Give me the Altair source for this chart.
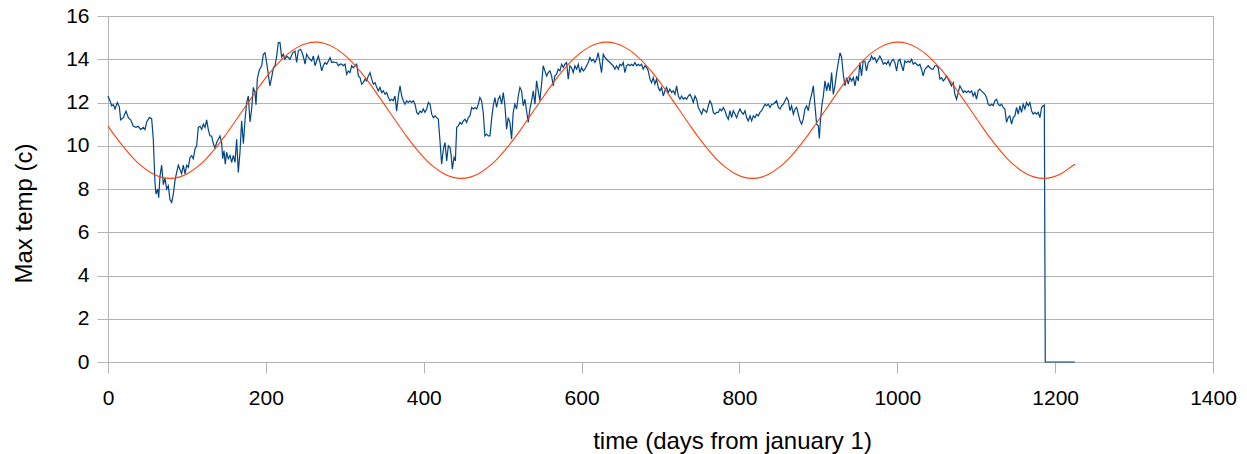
import altair as alt
import pandas as pd

# ---------------- data ----------------
x_ticks = [0, 200, 400, 600, 800, 1000, 1200, 1400]
y_ticks = [0, 2, 4, 6, 8, 10, 12, 14, 16]

# measured max temperature (blue), segment 1
days_a = [0, 2.5, 4.6, 6.8, 8.9, 11.8, 14.4, 16.0, 19.4, 22.8,
          25.8, 28.7, 32.1, 35.5, 38.4, 41.4, 44.8, 46.9, 49.0, 52.4,
          55.3, 57.4, 59.5, 60.8, 62.9, 64.2, 65.9, 68.0, 70.1, 72.2,
          74.3, 76.4, 78.5, 80.7, 82.8, 84.9, 87.0, 89.1, 91.2, 93.3,
          95.4, 97.6, 99.7, 101.8, 103.9, 106.0, 108.1, 110.2, 112.3, 114.4,
          116.6, 118.7, 120.8, 122.9, 125.0, 127.1, 129.2, 131.3, 133.4, 135.6,
          137.7, 139.8, 141.9, 144.0, 145.3, 147.0, 148.6, 150.3, 152.4, 154.6,
          156.7, 158.8, 160.9, 163.0, 165.1, 167.2, 169.3, 171.5, 173.6, 175.7,
          177.8, 179.9, 182.0, 184.1, 186.2, 187.5, 189.2, 191.7, 194.7, 196.8,
          198.9, 201.0, 203.1, 205.2, 207.3, 209.5, 211.6, 213.7, 215.8, 217.9,
          220.0, 222.1, 224.2, 226.4]
temp_a = [12.3, 12.08, 11.85, 11.9, 11.7, 12.0, 11.8, 11.2, 11.3, 11.6,
          11.3, 11.2, 10.9, 10.85, 10.9, 10.75, 10.85, 10.75, 11.1, 11.3,
          11.25, 10.3, 8.3, 7.77, 8.0, 7.6, 8.6, 9.1, 8.2, 8.5,
          8.0, 8.15, 7.5, 7.38, 7.77, 8.4, 8.77, 9.1, 8.9, 8.7,
          9.1, 8.7, 9.1, 9.0, 9.46, 9.54, 9.4, 9.85, 10.0, 10.85,
          10.9, 10.75, 11.0, 10.85, 11.2, 10.75, 10.45, 10.45, 10.1, 9.9,
          10.15, 10.3, 10.45, 10.15, 9.4, 9.77, 9.15, 9.7, 9.4, 9.55,
          9.23, 9.55, 9.23, 10.3, 8.77, 9.7, 11.15, 10.1, 11.2, 12.0,
          12.3, 11.1, 11.7, 12.7, 12.45, 11.9, 13.1, 13.5, 13.7, 14.23,
          14.3, 13.85, 13.3, 12.77, 13.15, 13.6, 13.7, 14.15, 14.77, 14.77,
          14.1, 14.23, 14.0, 14.15]

# segment 2
days_b = [230.6, 234.0, 236.9, 239.0, 241.2, 244.1, 246.6, 248.3, 249.6, 251.7,
          253.8, 255.9, 258.1, 260.2, 262.3, 264.4, 266.5, 268.6, 270.7, 272.8,
          275.0, 277.1, 279.2, 281.3, 283.4, 285.5, 287.6, 289.7, 291.8, 294.0,
          296.1, 298.2, 300.3, 302.4, 304.5, 306.6, 308.7, 310.8, 313.0, 315.1,
          317.2, 319.3, 321.4, 323.5, 325.6, 327.7, 329.8, 332.0, 334.1, 336.2,
          338.3, 340.4, 342.5, 344.6, 346.7, 348.8, 351.0, 353.1, 355.2, 357.3,
          359.4, 361.5, 363.6, 365.7, 367.9, 370.0, 372.1, 374.2, 376.3, 378.4,
          380.5, 382.6, 384.7, 386.9, 389.0, 391.1, 393.2, 395.3, 397.4, 399.5,
          401.6, 403.7, 405.9, 408.0, 410.1, 412.2, 414.3, 416.4, 418.5, 420.6,
          422.7, 424.9, 427.0, 429.1, 431.2, 433.3, 434.6, 436.3, 438.4, 440.1,
          441.8, 443.9, 446.0, 448.1, 450.2, 452.3, 454.4, 456.5, 458.6, 460.8,
          462.9, 465.0, 467.1, 469.2]
temp_b = [14.0, 14.3, 14.38, 13.85, 14.4, 14.46, 14.23, 14.0, 13.77, 14.23,
          14.1, 14.0, 13.92, 14.15, 13.7, 13.92, 14.15, 13.85, 13.46, 13.7,
          13.85, 13.77, 13.92, 14.08, 13.85, 13.88, 13.85, 13.85, 13.7, 13.77,
          13.77, 13.7, 13.77, 13.3, 13.46, 13.38, 13.7, 13.6, 13.7, 13.77,
          13.23, 13.15, 12.85, 12.92, 13.08, 13.0, 13.23, 13.38, 13.08, 12.85,
          12.92, 12.7, 12.54, 12.7, 12.46, 12.54, 12.38, 12.46, 12.23, 12.08,
          12.15, 12.08, 12.3, 11.6, 12.3, 12.77, 12.3, 12.08, 11.92, 12.08,
          12.0, 12.08, 12.0, 12.08, 11.92, 11.54, 11.46, 11.6, 11.54, 11.7,
          11.54, 11.7, 12.0, 11.92, 11.46, 11.3, 11.38, 11.3, 11.23, 10.23,
          9.15, 9.85, 10.15, 9.3, 10.0, 9.92, 9.62, 8.92, 9.46, 9.3,
          10.85, 10.92, 11.08, 11.0, 11.15, 11.23, 11.08, 11.3, 11.38, 11.77,
          11.7, 11.77, 11.7, 11.92]

# segment 3
days_c = [471.2, 473.3, 475.4, 477.5, 479.6, 481.8, 483.9, 486.0, 488.1, 490.2,
          492.3, 494.4, 496.5, 498.7, 500.8, 502.9, 505.0, 507.1, 509.2, 511.3,
          513.4, 515.5, 517.7, 519.8, 521.9, 524.0, 526.1, 528.2, 530.3, 532.4,
          534.5, 536.7, 538.8, 540.9, 543.0, 545.1, 547.2, 549.3, 551.4, 553.5,
          555.7, 557.8, 559.9, 562.0, 564.1, 566.2, 568.3, 570.4, 572.6, 574.7,
          576.8, 578.9, 581.0, 583.1, 585.2, 587.3, 589.4, 591.6, 593.7, 595.8,
          597.9, 600.0, 602.1, 604.2, 606.3, 608.4, 610.6, 612.7, 614.8, 616.9,
          619.0, 621.1, 623.2, 625.3, 627.5, 629.6, 631.7, 633.8, 635.9, 638.0,
          640.1, 642.2, 644.3, 646.5, 648.6, 650.7, 652.8, 654.9, 657.0, 659.1,
          661.2, 663.3, 665.5, 667.6, 669.7, 671.8, 673.9, 676.0, 678.1, 680.2,
          682.4, 684.5, 686.6, 688.7, 690.8, 692.9, 695.0, 697.1, 699.2, 701.4,
          703.5, 705.6, 707.7, 709.8, 711.9]
temp_c = [12.23, 12.08, 11.54, 10.46, 10.54, 10.46, 10.46, 11.23, 11.85, 12.23,
          11.77, 12.15, 12.3, 11.92, 12.46, 11.85, 10.77, 11.3, 11.08, 10.3,
          11.54, 11.92, 11.7, 12.3, 12.7, 12.54, 11.85, 12.15, 11.62, 11.08,
          11.7, 12.08, 12.54, 11.92, 13.0, 12.54, 12.08, 12.85, 13.7, 13.46,
          13.23, 13.38, 13.46, 13.23, 12.77, 13.23, 13.3, 13.54, 13.46, 13.77,
          13.62, 13.77, 13.85, 13.08, 13.7, 13.62, 13.38, 13.7, 13.54, 13.77,
          13.38, 13.62, 13.46, 13.54, 13.7, 13.85, 14.08, 13.92, 14.0, 13.85,
          14.0, 14.3, 13.85, 13.38, 14.23, 14.08, 14.0, 13.92, 13.85, 13.77,
          13.7, 13.54, 13.7, 13.54, 13.77, 13.7, 13.85, 13.38, 13.7, 13.77,
          13.7, 13.77, 13.7, 13.85, 13.7, 13.77, 13.7, 13.77, 13.54, 13.7,
          13.62, 13.46, 13.08, 12.92, 13.15, 12.85, 13.08, 12.7, 12.54, 12.7,
          12.3, 12.54, 12.7, 12.46, 12.62]

# segment 4
days_d = [714.1, 716.2, 718.3, 720.4, 722.6, 724.7, 726.8, 728.9, 731.0, 733.1,
          735.2, 737.3, 739.4, 741.6, 743.7, 745.8, 747.9, 750.0, 752.1, 754.2,
          756.3, 758.5, 760.6, 762.7, 764.8, 766.9, 769.0, 771.1, 773.2, 775.3,
          777.5, 779.6, 781.7, 783.8, 785.9, 788.0, 790.1, 792.2, 794.4, 796.5,
          798.6, 800.7, 802.8, 804.9, 807.0, 809.1, 811.2, 813.4, 815.5, 817.6,
          819.7, 821.8, 823.9, 826.0, 828.1, 830.2, 832.4, 834.5, 836.6, 838.7,
          840.8, 842.9, 845.0, 847.1, 849.3, 851.4, 853.5, 855.6, 857.7, 859.8,
          861.9, 864.0, 866.1, 868.3, 870.4, 872.5, 874.6, 876.7, 878.8, 880.9,
          883.0, 885.1, 887.3, 889.4, 891.5, 893.6, 895.7, 897.8, 899.9,
          901.2, 902.9, 904.6,
          906.3, 908.4, 910.5, 912.6, 914.7, 916.8, 918.9, 921.0, 923.2, 925.3,
          927.4, 929.5, 931.6, 933.7, 935.8, 937.9, 940.0, 942.2, 944.3, 946.4,
          948.5, 950.6]
temp_d = [12.46, 12.54, 12.38, 12.77, 12.3, 12.15, 12.3, 12.15, 12.23, 12.15,
          12.3, 12.38, 12.23, 12.0, 12.3, 12.15, 11.77, 11.62, 11.46, 11.7,
          11.62, 11.54, 11.85, 12.08, 11.92, 11.54, 11.46, 11.54, 11.54, 11.7,
          11.62, 11.77, 11.62, 11.38, 11.23, 11.62, 11.3, 11.62, 11.46, 11.3,
          11.54, 11.7, 11.54, 11.46, 11.62, 11.3, 11.15, 11.38, 11.15, 11.38,
          11.3, 11.46, 11.38, 11.54, 11.62, 11.77, 11.92, 11.85, 11.92, 11.77,
          11.92, 11.92, 12.0, 12.08, 11.77, 11.7, 11.85, 11.92, 12.08, 12.23,
          12.08, 11.62, 11.85, 11.46, 11.7, 11.77, 11.46, 11.15, 11.0, 11.23,
          11.7, 11.85, 11.62, 12.08, 12.38, 12.77, 11.85, 11.0, 10.92,
          10.34, 11.3, 11.92,
          12.3, 13.0, 12.54, 12.92, 12.54, 13.38, 12.38, 12.77, 13.38, 13.85,
          14.3, 14.08, 13.3, 12.77, 13.15, 12.85, 13.15, 13.0, 13.15, 12.77,
          13.23, 13.0]

# segment 5 (ends with the drop to zero)
days_e = [952.6, 954.7, 956.8, 958.9, 961.0, 963.2, 965.3, 967.4, 969.5, 971.6,
          973.7, 975.8, 977.9, 980.0, 982.2, 984.3, 986.4, 988.5, 990.6, 992.7,
          994.8, 996.9, 999.1, 1001.2, 1003.3, 1005.4, 1007.5, 1009.6, 1011.7, 1013.8,
          1015.9, 1018.1, 1020.2, 1022.3, 1024.4, 1026.5, 1028.6, 1030.7, 1032.8, 1035.0,
          1037.1, 1039.2, 1041.3, 1043.4, 1045.5, 1047.6, 1049.7, 1051.8, 1054.0, 1056.1,
          1058.2, 1060.3, 1062.4, 1064.5, 1066.6, 1068.7, 1070.9, 1073.0, 1075.1, 1077.2,
          1079.3, 1081.4, 1083.5, 1085.6, 1087.7, 1089.9, 1092.0, 1094.1, 1096.2, 1098.3,
          1100.4, 1102.5, 1104.6, 1106.7, 1108.9, 1111.0, 1113.1, 1115.2, 1117.3, 1119.4,
          1121.5, 1123.6, 1125.8, 1127.9, 1130.0, 1132.1, 1134.2, 1136.3, 1138.4, 1140.5,
          1142.6, 1144.8, 1146.9, 1149.0, 1151.1, 1153.2, 1155.3, 1157.4, 1159.5, 1161.7,
          1163.8, 1165.9, 1168.0, 1170.1, 1172.2, 1174.3, 1176.4, 1178.6, 1180.7, 1182.8,
          1184.9, 1186.3, 1187.5, 1225.0]
temp_e = [13.85, 13.23, 13.92, 13.92, 13.46, 13.85, 13.92, 14.15, 14.0, 14.08,
          13.85, 14.0, 14.15, 14.0, 13.77, 13.85, 13.77, 13.92, 13.7, 13.92,
          14.0, 13.85, 13.46, 13.92, 14.0, 13.7, 13.46, 13.92, 13.85, 13.92,
          13.85, 14.0, 13.77, 13.85, 13.77, 13.7, 13.77, 13.54, 13.23, 13.54,
          13.62, 13.7, 13.62, 13.54, 13.54, 13.7, 13.7, 13.62, 13.08, 13.15,
          13.0, 13.08, 13.23, 13.08, 12.92, 12.77, 12.92, 12.38, 12.15, 12.46,
          12.77, 12.62, 12.46, 12.54, 12.46, 12.54, 12.46, 12.54, 12.3, 12.46,
          12.15, 12.54, 12.62, 12.54, 12.46, 12.38, 12.23, 11.92, 11.85, 11.92,
          11.85, 12.08, 12.15, 11.92, 11.85, 11.92, 11.77, 11.7, 11.08, 11.3,
          11.38, 11.0, 11.3, 11.38, 11.77, 11.46, 11.85, 11.54, 11.92, 11.7,
          12.0, 11.85, 12.0, 11.62, 11.46, 11.54, 11.46, 11.54, 11.3, 11.77,
          11.85, 11.88, 0.0, 0.0]

# fitted seasonal curve (red)
fit_days = [0.0,
            9.3, 20.9, 32.4, 43.9, 55.5, 67.0, 78.5, 90.1, 101.6, 113.1,
            124.6, 136.2, 147.7, 159.2, 170.8, 182.3, 193.8, 205.4, 216.9, 228.4,
            239.9, 251.5, 263.0, 274.5, 286.1, 297.6, 309.1, 320.7, 332.2, 343.7,
            355.2, 366.8, 378.3, 389.8, 401.4, 412.9, 424.4, 436.0, 447.5, 459.0,
            470.5, 482.1, 493.6, 505.1, 516.7, 528.2, 539.7, 551.3, 562.8, 574.3,
            585.8, 597.4, 608.9, 620.4, 632.0, 643.5, 655.0, 666.6, 678.1, 689.6,
            701.1, 712.7, 724.2, 735.7, 747.3, 758.8, 770.3, 781.9, 793.4, 804.9,
            816.4, 828.0, 839.5, 851.0, 862.6, 874.1, 885.6, 897.2, 908.7, 920.2,
            931.7, 943.3, 954.8, 966.3, 977.9, 989.4, 1000.9, 1012.5, 1024.0, 1035.5,
            1047.0, 1058.6, 1070.1, 1081.6, 1093.2, 1104.7, 1116.2, 1127.8, 1139.3, 1150.8,
            1162.3, 1173.9, 1185.4, 1196.9, 1208.5, 1220.0,
            1225.0]
fit_temp = [10.91,
            10.43, 9.89, 9.41, 9.02, 8.73, 8.55, 8.49, 8.55, 8.73, 9.02,
            9.41, 9.89, 10.43, 11.03, 11.64, 12.25, 12.85, 13.39, 13.87, 14.26,
            14.55, 14.73, 14.79, 14.73, 14.55, 14.26, 13.87, 13.39, 12.85, 12.25,
            11.64, 11.03, 10.43, 9.89, 9.41, 9.02, 8.73, 8.55, 8.49, 8.55,
            8.73, 9.02, 9.41, 9.89, 10.43, 11.03, 11.64, 12.25, 12.85, 13.39,
            13.87, 14.26, 14.55, 14.73, 14.79, 14.73, 14.55, 14.26, 13.87, 13.39,
            12.85, 12.25, 11.64, 11.03, 10.43, 9.89, 9.41, 9.02, 8.73, 8.55,
            8.49, 8.55, 8.73, 9.02, 9.41, 9.89, 10.43, 11.03, 11.64, 12.25,
            12.85, 13.39, 13.87, 14.26, 14.55, 14.73, 14.79, 14.73, 14.55, 14.26,
            13.87, 13.39, 12.85, 12.25, 11.64, 11.03, 10.43, 9.89, 9.41, 9.02,
            8.73, 8.55, 8.49, 8.55, 8.73, 9.02,
            9.15]

# ---------------- build ----------------
days = days_a + days_b + days_c + days_d + days_e
temps = temp_a + temp_b + temp_c + temp_d + temp_e
obs = pd.DataFrame({"day": days, "temp": temps})
fit = pd.DataFrame({"day": fit_days, "temp": fit_temp})

FONT = "Liberation Sans"
GRAY = "#b3b3b3"

x_enc = alt.X(
    "day:Q",
    scale=alt.Scale(domain=[0, 1400], nice=False, zero=False),
    axis=alt.Axis(
        values=x_ticks, format="d", grid=False, tickSize=11, labelPadding=14,
        labelFlush=False, labelOverlap=False,
        title="time (days from january 1)",
        titleX=624, titleY=86, titleAlign="center", titleBaseline="alphabetic",
        titleAnchor="start",
    ),
)
y_enc = alt.Y(
    "temp:Q",
    scale=alt.Scale(domain=[0, 16], nice=False),
    axis=alt.Axis(
        values=y_ticks, format="d", grid=True, tickSize=11, labelPadding=8,
        labelFlush=False, labelOverlap=False,
        title="Max temp (c)",
        titleX=-77, titleY=197, titleAlign="center", titleBaseline="alphabetic",
        titleAngle=270, titleAnchor="start",
    ),
)

obs_line = alt.Chart(obs).mark_line(color="#004586", strokeWidth=1.2).encode(
    x=x_enc, y=y_enc, order="day:Q"
)
fit_line = alt.Chart(fit).mark_line(
    color="#ff420e", strokeWidth=1.1, interpolate="monotone"
).encode(x=x_enc, y=y_enc, order="day:Q")

chart = (
    alt.layer(obs_line, fit_line)
    .properties(
        width=1105,
        height=346,
        autosize=alt.AutoSizeParams(type="none"),
        padding={"left": 108, "top": 16, "right": 34, "bottom": 92},
        background="white",
    )
    .configure_view(stroke=GRAY, strokeWidth=1)
    .configure_axis(
        domainColor=GRAY,
        tickColor=GRAY,
        gridColor=GRAY,
        domainWidth=1,
        tickWidth=1,
        gridWidth=1,
        labelFont=FONT,
        labelFontSize=21,
        labelColor="#000000",
        titleFont=FONT,
        titleFontSize=24,
        titleFontWeight="normal",
        titleColor="#000000",
    )
)

chart.save("out.html", embed_options={"renderer": "svg", "actions": False})
